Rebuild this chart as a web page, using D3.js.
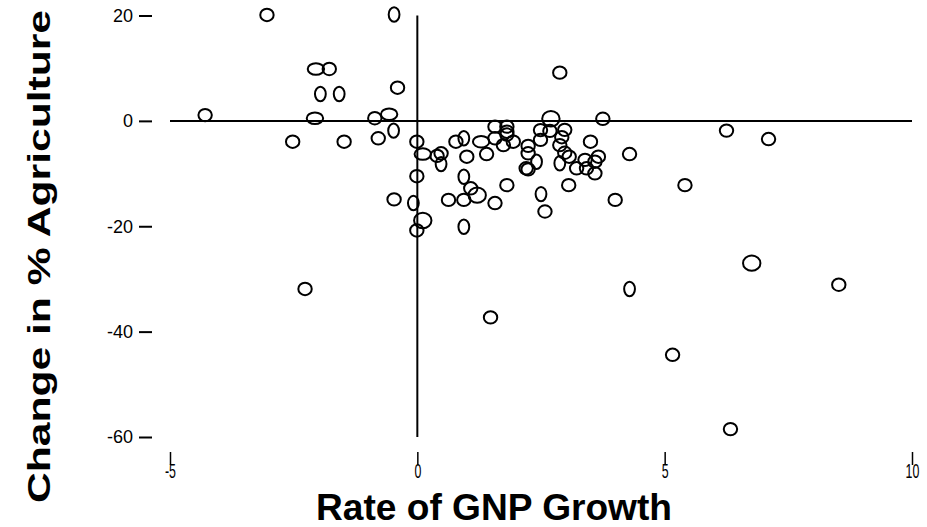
<!DOCTYPE html>
<html lang="en">
<head>
<meta charset="UTF-8">
<title>Change in % Agriculture vs Rate of GNP Growth</title>
<script src="https://d3js.org/d3.v7.min.js"></script>
<style>
    body { margin: 0; background: #fff; }
    text { font-family: "Liberation Sans", Arial, sans-serif; fill: #000; }
</style>
</head>
<body>
<svg id="chart" width="927" height="527"></svg>
<script>
    // data
    const gnpGrowth = [
        -3.04, -0.47, -2.05, -1.78, -1.96, -1.58, -0.40, -4.29, -2.07, -0.86,
        -0.57, -0.48, -2.52, -1.48, -0.79, -0.01, 0.11, -0.01, 2.88, 2.70,
        3.75, 0.40, 0.48, 0.48, 0.78, 0.94, 1.29, 1.00, 1.40, 1.57,
        1.81, 1.57, 1.74, 1.81, 1.94, 0.94, 1.08, 1.21, -0.47, -0.08,
        0.63, 0.94, 1.57, 1.81, 0.11, -0.01, 0.94, 2.24, 2.24, 2.41,
        2.20, 2.24, 2.49, 2.49, 2.98, 2.92, 2.88, 2.98, 3.07, 2.88,
        3.22, 3.39, 3.42, 3.59, 3.66, 3.59, 3.50, 3.06, 2.50, 2.58,
        4.00, 4.29, 2.68, 6.25, 7.10, 5.41, 6.76, 8.52, 4.29, 1.48,
        5.16, 6.33, -2.27, 1.81
    ];
    const agriChange = [
        20.1, 20.2, 9.85, 9.85, 5.1, 5.1, 6.3, 1.1, 0.5, 0.5,
        1.25, -1.85, -3.95, -3.95, -3.3, -3.95, -6.3, -10.5, 9.15, 0.4,
        0.4, -6.65, -6.15, -8.2, -3.95, -3.3, -3.95, -6.8, -6.3, -1.1,
        -1.1, -3.3, -4.6, -2.05, -3.95, -10.6, -12.8, -14.1, -14.9, -15.6,
        -15.0, -15.0, -15.6, -12.2, -18.9, -20.8, -20.1, -4.75, -6.15, -7.75,
        -9.0, -9.2, -1.75, -3.6, -1.7, -3.1, -4.6, -6.05, -6.8, -8.05,
        -9.0, -7.4, -9.0, -9.95, -6.8, -7.75, -3.95, -12.2, -13.9, -17.2,
        -15.0, -6.3, -1.9, -1.85, -3.45, -12.2, -27.0, -31.1, -31.9, -37.3,
        -44.4, -58.5, -31.9, -2.6
    ];
    // marker outline kind: o = round, w = wide, t = tall, b = big
    const markerKind = [
        "o", "t", "w", "o", "t", "t", "o", "o", "w", "o",
        "w", "t", "o", "o", "o", "o", "w", "o", "o", "b",
        "o", "o", "o", "t", "o", "t", "w", "o", "o", "o",
        "o", "o", "o", "o", "o", "t", "o", "b", "o", "t",
        "o", "o", "o", "o", "b", "o", "t", "o", "o", "t",
        "o", "o", "o", "o", "o", "o", "o", "o", "o", "t",
        "o", "o", "o", "o", "o", "o", "o", "o", "t", "o",
        "o", "o", "o", "o", "o", "o", "b", "o", "t", "o",
        "o", "o", "o", "o"
    ];
    const xTicks = [-5, 0, 5, 10];
    const yTicks = [-60, -40, -20, 0, 20];

    const svg = d3.select("#chart");

    const x = d3.scaleLinear().domain([-5, 10]).range([170, 912]);
    const y = d3.scaleLinear().domain([-60, 20]).range([437, 15.5]);

    const rx = d3.scaleOrdinal().domain(["o", "w", "t", "b"]).range([6.7, 8.2, 5.4, 8.7]);
    const ry = d3.scaleOrdinal().domain(["o", "w", "t", "b"]).range([6.2, 5.8, 7.2, 7.7]);

    // plain hyphen for negatives, like the original
    const fmt = d => String(d);

    // y axis ticks
    const yAxis = svg.append("g")
        .attr("transform", "translate(152,0)")
        .call(d3.axisLeft(y).tickValues(yTicks).tickFormat(fmt).tickSize(13).tickPadding(6));
    yAxis.select(".domain").remove();
    yAxis.selectAll("line").attr("stroke", "#000").attr("stroke-width", 2);
    yAxis.selectAll("text")
        .style("font-size", "18px");

    // x axis ticks, labels sit over the ticks and are narrow
    const xAxis = svg.append("g")
        .attr("transform", "translate(0,452)")
        .call(d3.axisBottom(x).tickValues(xTicks).tickFormat(fmt).tickSize(13).tickPadding(-1));
    xAxis.select(".domain").remove();
    xAxis.selectAll("line").attr("stroke", "#000").attr("stroke-width", 1.5);
    xAxis.selectAll("text")
        .style("font-size", "20px")
        .attr("transform", "scale(0.62,1)");

    // crossing lines through zero
    svg.append("line")
        .attr("x1", x(-5)).attr("x2", x(10))
        .attr("y1", y(0)).attr("y2", y(0))
        .attr("stroke", "#000").attr("stroke-width", 2);
    svg.append("line")
        .attr("x1", x(0)).attr("x2", x(0))
        .attr("y1", y(20)).attr("y2", y(-60))
        .attr("stroke", "#000").attr("stroke-width", 2);

    // points
    svg.append("g")
        .selectAll("ellipse")
        .data(d3.range(gnpGrowth.length))
        .join("ellipse")
        .attr("cx", i => x(gnpGrowth[i]))
        .attr("cy", i => y(agriChange[i]))
        .attr("rx", i => rx(markerKind[i]))
        .attr("ry", i => ry(markerKind[i]))
        .attr("fill", "none")
        .attr("stroke", "#000")
        .attr("stroke-width", 2);

    // axis titles
    svg.append("text")
        .attr("x", 316)
        .attr("y", 520)
        .style("font-size", "36px")
        .attr("font-weight", "bold")
        .attr("textLength", 356)
        .attr("lengthAdjust", "spacingAndGlyphs")
        .text("Rate of GNP Growth");

    svg.append("text")
        .attr("transform", "translate(50,503) rotate(-90)")
        .style("font-size", "31px")
        .attr("font-weight", "bold")
        .attr("textLength", 493)
        .attr("lengthAdjust", "spacingAndGlyphs")
        .text("Change in % Agriculture");
</script>
</body>
</html>
